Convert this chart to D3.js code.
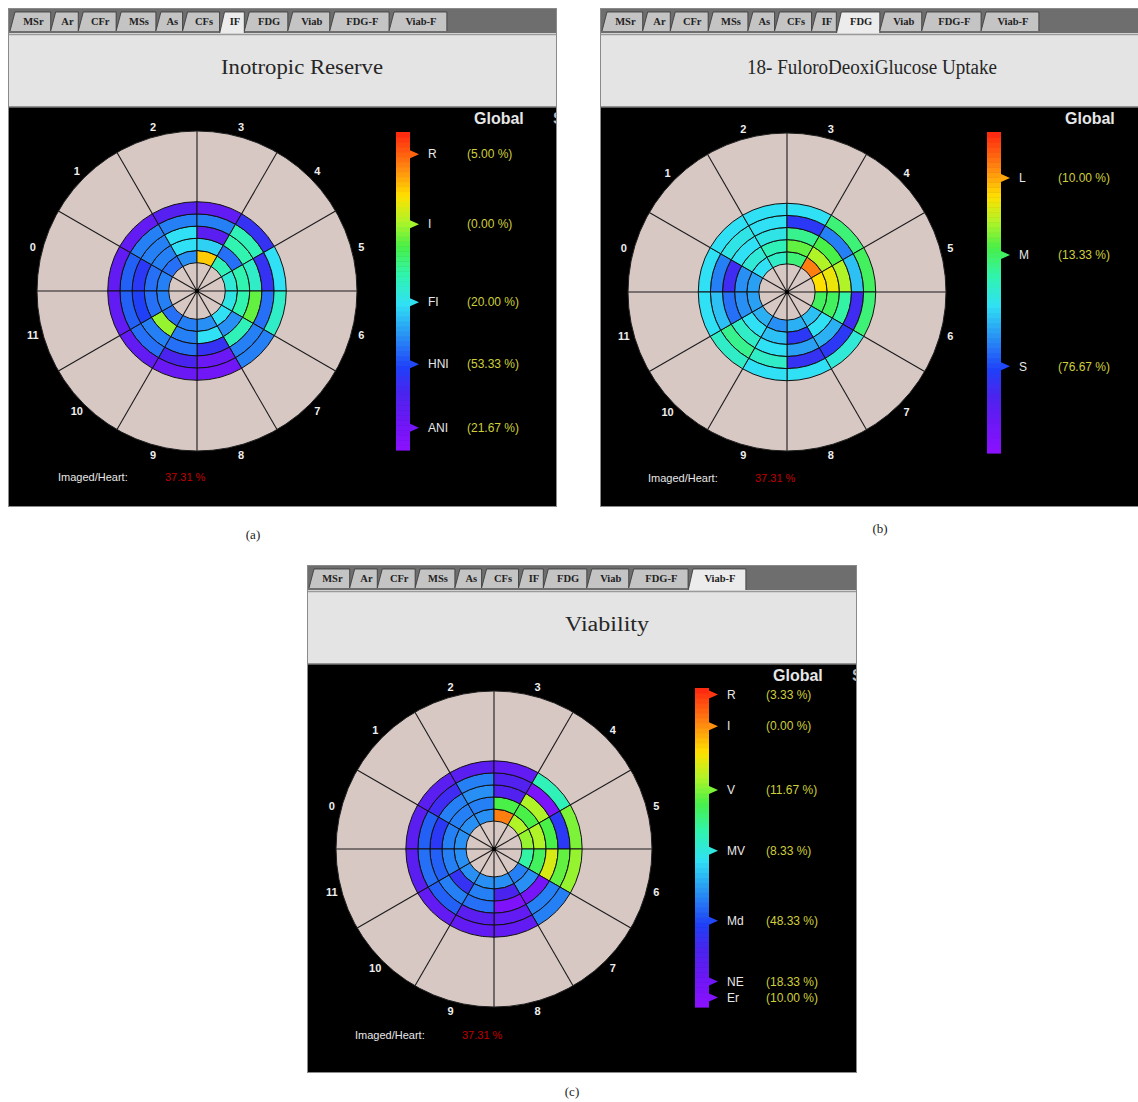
<!DOCTYPE html>
<html>
<head>
<meta charset="utf-8">
<script src="https://cdn.jsdelivr.net/npm/d3@7"></script>
<style>
body { margin: 0; background: #fff; }
svg { display: block; }
</style>
</head>
<body>
<svg id="fig" width="1138" height="1102"></svg>
<script>
// tabs of the application window
const tabNames = ["MSr", "Ar", "CFr", "MSs", "As", "CFs", "IF", "FDG", "Viab", "FDG-F", "Viab-F"];
const sectorLabels = d3.range(12).map(String);

// cell values on the colour scale (0 = purple .. 1 = red), [sector][ring inner -> outer]
const irCells = [
  [0.34, 0.32, 0.24, 0.30, 0.12],
  [0.32, 0.34, 0.34, 0.34, 0.12],
  [0.36, 0.46, 0.46, 0.34, 0.15],
  [0.82, 0.44, 0.14, 0.34, 0.12],
  [0.54, 0.32, 0.55, 0.54, 0.22],
  [0.50, 0.55, 0.52, 0.22, 0.46],
  [0.48, 0.55, 0.66, 0.32, 0.52],
  [0.46, 0.36, 0.54, 0.34, 0.34],
  [0.36, 0.46, 0.22, 0.10, 0.08],
  [0.34, 0.34, 0.32, 0.18, 0.10],
  [0.32, 0.70, 0.34, 0.32, 0.12],
  [0.34, 0.32, 0.26, 0.30, 0.12]
];
const fdgCells = [
  [0.38, 0.36, 0.20, 0.34, 0.46],
  [0.46, 0.50, 0.46, 0.48, 0.46],
  [0.52, 0.54, 0.48, 0.46, 0.46],
  [0.60, 0.66, 0.58, 0.24, 0.46],
  [0.90, 0.72, 0.64, 0.34, 0.60],
  [0.80, 0.78, 0.72, 0.42, 0.62],
  [0.62, 0.62, 0.56, 0.20, 0.60],
  [0.42, 0.46, 0.40, 0.24, 0.50],
  [0.40, 0.24, 0.38, 0.22, 0.46],
  [0.36, 0.42, 0.46, 0.52, 0.46],
  [0.40, 0.46, 0.52, 0.58, 0.52],
  [0.38, 0.36, 0.32, 0.42, 0.46]
];
const viabCells = [
  [0.36, 0.34, 0.24, 0.30, 0.14],
  [0.36, 0.34, 0.34, 0.20, 0.14],
  [0.36, 0.34, 0.36, 0.34, 0.14],
  [0.90, 0.64, 0.16, 0.16, 0.12],
  [0.72, 0.64, 0.72, 0.05, 0.54],
  [0.70, 0.72, 0.64, 0.24, 0.68],
  [0.56, 0.62, 0.76, 0.66, 0.70],
  [0.34, 0.36, 0.06, 0.34, 0.34],
  [0.36, 0.18, 0.04, 0.12, 0.12],
  [0.36, 0.34, 0.32, 0.14, 0.12],
  [0.36, 0.22, 0.34, 0.30, 0.12],
  [0.36, 0.34, 0.30, 0.32, 0.14]
];

// legends: class names, their level on the colour bar, global percentages
const irNames = ["R", "I", "FI", "HNI", "ANI"];
const irLevels = [0.93, 0.71, 0.465, 0.27, 0.07];
const irPct = ["(5.00 %)", "(0.00 %)", "(20.00 %)", "(53.33 %)", "(21.67 %)"];

const fdgNames = ["L", "M", "S"];
const fdgLevels = [0.857, 0.617, 0.27];
const fdgPct = ["(10.00 %)", "(13.33 %)", "(76.67 %)"];

const viabNames = ["R", "I", "V", "MV", "Md", "NE", "Er"];
const viabLevels = [0.98, 0.88, 0.68, 0.49, 0.27, 0.08, 0.03];
const viabPct = ["(3.33 %)", "(0.00 %)", "(11.67 %)", "(8.33 %)", "(48.33 %)", "(18.33 %)", "(10.00 %)"];

const imagedHeart = "37.31 %";

// rainbow colour map as used by the program
const colorStops = [0, 0.10, 0.18, 0.26, 0.36, 0.46, 0.55, 0.64, 0.72, 0.80, 0.88, 1];
const colorRange = ["#8c10ff", "#6a18f4", "#4a24ee", "#2040f8", "#2890f4", "#30e0f4",
                    "#30f4b0", "#48f048", "#b0f428", "#ffe000", "#ff9010", "#ff2410"];
const color = d3.scaleLinear().domain(colorStops).range(colorRange);

const SERIF = "'Liberation Serif','DejaVu Serif',serif";
const SANS = "'Liberation Sans',Arial,sans-serif";

const svg = d3.select("#fig");

const panels = [
  {id: "a", x: 8, y: 8, w: 549, h: 499, cx: 197, cy: 291, R: 160, barX: 396, barTop: 132, barBottom: 450,
   title: "Inotropic Reserve", titleX: 302, titleW: 162, sel: 6, cells: irCells, names: irNames, levels: irLevels, pct: irPct,
   caption: "(a)", capX: 253, capY: 539, cutS: true},
  {id: "b", x: 600, y: 8, w: 540, h: 499, cx: 787, cy: 292, R: 159, barX: 987, barTop: 132, barBottom: 453,
   title: "18- FuloroDeoxiGlucose Uptake", titleX: 872, titleW: 250, sel: 7, cells: fdgCells, names: fdgNames, levels: fdgLevels, pct: fdgPct,
   caption: "(b)", capX: 880, capY: 533, cutS: false},
  {id: "c", x: 307, y: 565, w: 550, h: 508, cx: 494, cy: 849, R: 158, barX: 695, barTop: 688, barBottom: 1007,
   title: "Viability", titleX: 607, titleW: 84, sel: 10, cells: viabCells, names: viabNames, levels: viabLevels, pct: viabPct,
   caption: "(c)", capX: 572, capY: 1096, cutS: true}
];

panels.forEach(drawPanel);

function drawPanel(p) {
  const clipId = "clip-" + p.id;
  svg.append("clipPath").attr("id", clipId)
    .append("rect").attr("x", p.x).attr("y", p.y).attr("width", p.w).attr("height", p.h);
  const g = svg.append("g").attr("clip-path", "url(#" + clipId + ")");

  // tab bar
  g.append("rect").attr("x", p.x).attr("y", p.y).attr("width", p.w).attr("height", 25).attr("fill", "#6e6e6e");
  let tx = p.x + 2;
  const tabs = g.append("g");
  tabNames.forEach(function (name, i) {
    const t = tabs.append("g");
    const label = t.append("text").text(name)
      .attr("font-family", SERIF).attr("font-size", 10.5).attr("font-weight", "bold")
      .attr("fill", "#222");
    const w = label.node().getComputedTextLength() * 1.6 + 8;
    const sel = i === p.sel;
    const yb = p.y + (sel ? 26 : 23);
    t.insert("path", "text")
      .attr("d", "M" + tx + "," + yb + "L" + (tx + 5) + "," + (p.y + 4) + "L" + (tx + w) + "," + (p.y + 4) + "L" + (tx + w) + "," + yb)
      .attr("fill", sel ? "#ececec" : "#c4c4c4")
      .attr("stroke", "#333").attr("stroke-width", 0.8);
    label.attr("x", tx + 3 + w / 2).attr("y", p.y + 17).attr("text-anchor", "middle");
    tx += w;
  });

  // title area
  g.append("rect").attr("x", p.x).attr("y", p.y + 25).attr("width", p.w).attr("height", 74)
    .attr("fill", "#e4e4e4");
  g.append("line").attr("x1", p.x).attr("x2", p.x + p.w).attr("y1", p.y + 26.5).attr("y2", p.y + 26.5)
    .attr("stroke", "#9a9a9a").attr("stroke-width", 1.5);
  g.append("text").attr("x", p.titleX).attr("y", p.y + 66)
    .attr("text-anchor", "middle").attr("font-family", SERIF).attr("font-size", 20)
    .attr("textLength", p.titleW).attr("lengthAdjust", "spacingAndGlyphs")
    .attr("fill", "#262626").text(p.title);

  // black drawing area
  const blackTop = p.y + 99;
  g.append("rect").attr("x", p.x).attr("y", blackTop).attr("width", p.w).attr("height", p.y + p.h - blackTop)
    .attr("fill", "#000");
  g.append("line").attr("x1", p.x).attr("x2", p.x + p.w).attr("y1", blackTop).attr("y2", blackTop)
    .attr("stroke", "#777").attr("stroke-width", 1.5);

  drawBullseye(g, p);
  drawLegend(g, p, blackTop);

  // panel frame
  svg.append("rect").attr("x", p.x + 0.5).attr("y", p.y + 0.5).attr("width", p.w - 1).attr("height", p.h - 1)
    .attr("fill", "none").attr("stroke", "#8a8a8a").attr("stroke-width", 1);

  svg.append("text").attr("x", p.capX).attr("y", p.capY).attr("text-anchor", "middle")
    .attr("font-family", SERIF).attr("font-size", 13).attr("fill", "#222").text(p.caption);
}

function drawBullseye(g, p) {
  const b = g.append("g").attr("transform", "translate(" + p.cx + "," + p.cy + ")");
  const angle = d3.scaleLinear().domain([0, 12]).range([-Math.PI / 2, 1.5 * Math.PI]);
  const ring = d3.scaleLinear().domain([0, 5]).range([p.R * 0.177, p.R * 0.558]);

  b.append("circle").attr("r", p.R).attr("fill", "#d7c8c4");

  // sector spokes
  b.selectAll("line.spoke").data(d3.range(12)).join("line")
    .attr("class", "spoke")
    .attr("x1", 0).attr("y1", 0)
    .attr("x2", d => Math.sin(angle(d)) * p.R)
    .attr("y2", d => -Math.cos(angle(d)) * p.R)
    .attr("stroke", "#1a1a1a").attr("stroke-width", 1.1);

  const cells = [];
  p.cells.forEach(function (rings, s) {
    rings.forEach(function (v, r) { cells.push({s: s, r: r, v: v}); });
  });
  const arc = d3.arc()
    .innerRadius(d => ring(d.r)).outerRadius(d => ring(d.r + 1))
    .startAngle(d => angle(d.s)).endAngle(d => angle(d.s + 1));
  b.selectAll("path.cell").data(cells).join("path")
    .attr("class", "cell")
    .attr("d", arc)
    .attr("fill", d => color(d.v))
    .attr("stroke", "#111").attr("stroke-width", 1);

  b.append("circle").attr("r", p.R).attr("fill", "none").attr("stroke", "#222").attr("stroke-width", 1);
  b.append("circle").attr("r", 2.2).attr("fill", "#000");

  b.selectAll("text.sec").data(sectorLabels).join("text")
    .attr("class", "sec")
    .attr("x", (d, i) => Math.sin(angle(i + 0.5)) * (p.R + 10))
    .attr("y", (d, i) => -Math.cos(angle(i + 0.5)) * (p.R + 10))
    .attr("text-anchor", "middle").attr("dominant-baseline", "central")
    .attr("font-family", SANS).attr("font-size", 11).attr("font-weight", "bold")
    .attr("fill", "#eee").text(d => d);

  b.append("text").attr("x", -139).attr("y", 190)
    .attr("font-family", SANS).attr("font-size", 11).attr("fill", "#e8e8e8").text("Imaged/Heart:");
  b.append("text").attr("x", -32).attr("y", 190)
    .attr("font-family", SANS).attr("font-size", 11).attr("fill", "#c00000").text(imagedHeart);
}

function drawLegend(g, p, blackTop) {
  const barW = 14;
  const y = d3.scaleLinear().domain([0, 1]).range([p.barBottom, p.barTop]);
  const bands = d3.range(64);
  g.selectAll("rect.band-" + p.id).data(bands).join("rect")
    .attr("class", "band-" + p.id)
    .attr("x", p.barX)
    .attr("y", d => y((d + 1) / 64))
    .attr("width", barW)
    .attr("height", d => y(d / 64) - y((d + 1) / 64) + 0.6)
    .attr("fill", d => color((d + 0.5) / 64));

  const rows = p.names.map((n, i) => ({name: n, level: p.levels[i], pct: p.pct[i]}));
  const row = g.selectAll("g.row-" + p.id).data(rows).join("g")
    .attr("class", "row-" + p.id)
    .attr("transform", d => "translate(0," + y(d.level) + ")");
  row.append("path")
    .attr("d", "M" + (p.barX + barW) + ",-4L" + (p.barX + barW + 9) + ",0L" + (p.barX + barW) + ",4Z")
    .attr("fill", d => color(d.level));
  row.append("line")
    .attr("x1", p.barX + barW - 2).attr("x2", p.barX + barW + 3).attr("y1", 0).attr("y2", 0)
    .attr("stroke", d => color(d.level)).attr("stroke-width", 2);
  row.append("text").attr("x", p.barX + barW + 18).attr("dy", "0.35em")
    .attr("font-family", SANS).attr("font-size", 12).attr("fill", "#e8e8e8").text(d => d.name);
  row.append("text").attr("x", p.barX + barW + 57).attr("dy", "0.35em")
    .attr("font-family", SANS).attr("font-size", 12).attr("fill", "#cfcf3a").text(d => d.pct);

  g.append("text").attr("x", p.barX + 78).attr("y", blackTop + 17)
    .attr("font-family", SANS).attr("font-size", 16).attr("font-weight", "bold")
    .attr("fill", "#e6e6e6").text("Global");
  if (p.cutS) {
    g.append("text").attr("x", p.barX + 157).attr("y", blackTop + 17)
      .attr("font-family", SANS).attr("font-size", 16).attr("font-weight", "bold")
      .attr("fill", "#bbb").text("S");
  }
}
</script>
</body>
</html>
